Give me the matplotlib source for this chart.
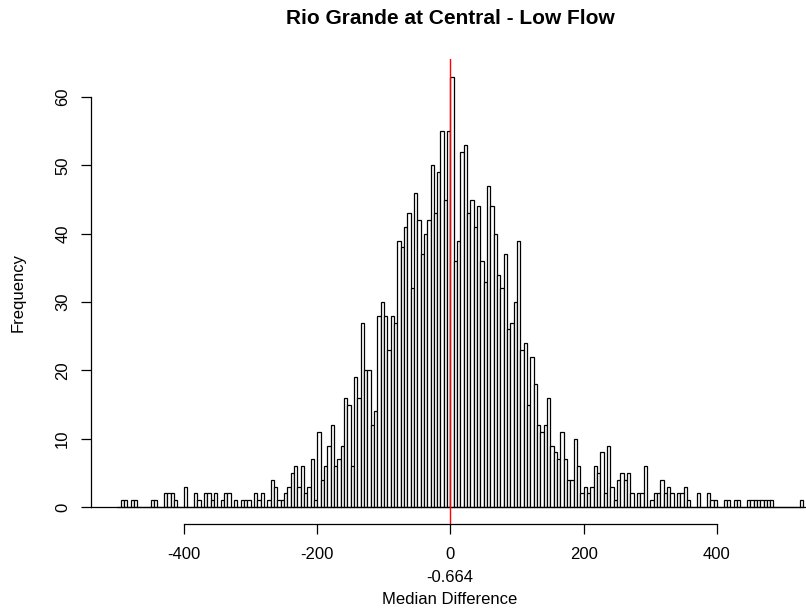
import numpy as np
import matplotlib
matplotlib.use("Agg")
import matplotlib.pyplot as plt

plt.rcParams['font.family'] = ['Liberation Sans', 'DejaVu Sans']
plt.rcParams['axes.unicode_minus'] = False

# histogram: bins of width 5 starting at -500
bin_start = -500
bin_width = 5
counts = [
    0, 1, 1, 0, 1, 1, 0, 0, 0, 0,
    1, 1, 0, 0, 2, 2, 2, 1, 0, 0,
    3, 0, 0, 2, 1, 0, 2, 2, 1, 2,
    0, 1, 2, 2, 0, 1, 0, 1, 1, 1,
    0, 2, 1, 2, 0, 1, 4, 3, 1, 1,
    2, 3, 5, 6, 3, 6, 2, 3, 7, 1,
    11, 4, 6, 9, 12, 6, 7, 9, 16, 15,
    6, 19, 16, 27, 20, 20, 12, 14, 28, 30,
    28, 23, 28, 27, 39, 38, 41, 43, 32, 46,
    42, 37, 40, 42, 50, 43, 49, 55, 45, 55,
    63, 36, 39, 52, 53, 43, 45, 41, 44, 36,
    33, 47, 44, 40, 34, 32, 37, 26, 27, 30,
    39, 23, 24, 15, 22, 18, 12, 11, 12, 16,
    9, 8, 7, 11, 7, 4, 4, 10, 6, 2,
    3, 2, 3, 6, 5, 8, 2, 9, 3, 1,
    4, 5, 4, 5, 2, 0, 2, 2, 6, 0,
    1, 2, 2, 4, 2, 3, 2, 0, 2, 2,
    3, 1, 0, 0, 2, 0, 0, 2, 1, 1,
    0, 0, 1, 1, 0, 1, 1, 0, 0, 1,
    1, 1, 1, 1, 1, 1, 1, 0, 0, 0,
    0, 0, 0, 0, 0, 1,
]
median_diff = -0.664
x_ticks = [-400, -200, 0, 200, 400]
y_ticks = [0, 10, 20, 30, 40, 50, 60]

edges = bin_start + bin_width * np.arange(len(counts))

fig = plt.figure(figsize=(8.06, 6.11), dpi=100)
ax = fig.add_axes([0.1123, 0.1419, 0.8877, 0.7610])

ax.bar(edges, counts, width=bin_width, align='edge', color='white',
       edgecolor='black', linewidth=0.9)
ax.axhline(0, color='black', linewidth=0.9)
ax.axvline(median_diff, color='red', linewidth=1.0)

ax.set_xlim(-540.5, 533.8)
ax.set_ylim(-2.53, 65.52)

for s in ['top', 'right']:
    ax.spines[s].set_visible(False)
ax.spines['bottom'].set_bounds(-400, 400)
ax.spines['left'].set_bounds(0, 60)
ax.spines['bottom'].set_linewidth(0.9)
ax.spines['left'].set_linewidth(0.9)

ax.set_xticks(x_ticks)
ax.set_xticklabels([str(t) for t in x_ticks])
ax.set_yticks(y_ticks)
ax.set_yticklabels([str(t) for t in y_ticks], rotation=90, va='center', ha='center')
ax.tick_params(axis='x', direction='out', length=7, width=0.9, pad=9, labelsize=12)
ax.tick_params(axis='y', direction='out', length=7, width=0.9, pad=13, labelsize=12)

fig.text(450 / 806, 1 - 18 / 611, 'Rio Grande at Central - Low Flow',
         ha='center', va='center', fontsize=15, fontweight='bold')
fig.text(450 / 806, 1 - 578 / 611, str(median_diff), ha='center', va='center', fontsize=12)
fig.text(450 / 806, 1 - 599 / 611, 'Median Difference', ha='center', va='center', fontsize=12)
fig.text(18 / 806, 1 - 292 / 611, 'Frequency', ha='center', va='center',
         rotation=90, fontsize=12)

fig.savefig('out.png', dpi=100)
plt.close(fig)
